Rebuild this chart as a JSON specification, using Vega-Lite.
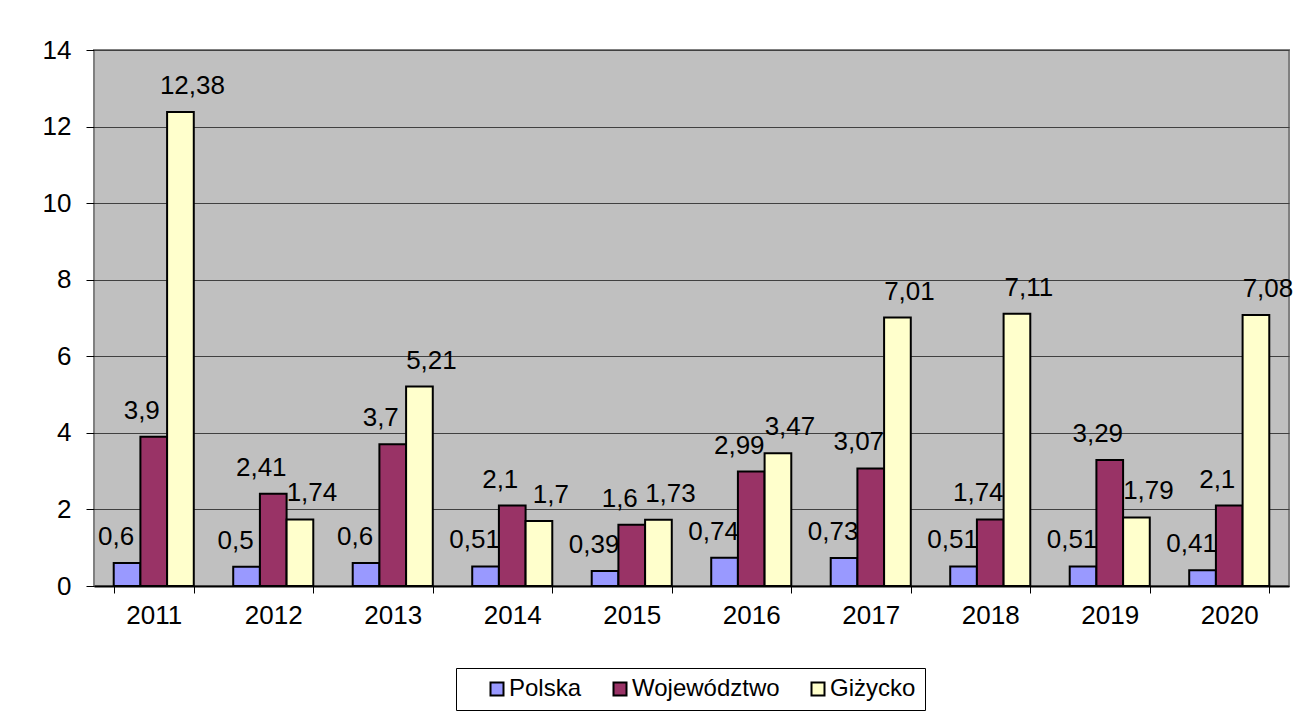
{
  "$schema": "https://vega.github.io/schema/vega-lite/v6.json",
  "width": 1195,
  "height": 536,
  "autosize": {"type": "none"},
  "padding": {"left": 94, "top": 50, "right": 22, "bottom": 130},
  "background": "white",
  "config": {
    "locale": {"number": {"decimal": ",", "thousands": " ", "grouping": [3], "currency": ["", ""]}},
    "font": "Liberation Sans",
    "view": {"fill": "#C0C0C0", "stroke": "#808080", "strokeWidth": 2}
  },
  "data": {
    "values": [
      {"year": "2011", "series": "Polska", "value": 0.6},
      {"year": "2011", "series": "Województwo", "value": 3.9},
      {"year": "2011", "series": "Giżycko", "value": 12.38},
      {"year": "2012", "series": "Polska", "value": 0.5},
      {"year": "2012", "series": "Województwo", "value": 2.41},
      {"year": "2012", "series": "Giżycko", "value": 1.74},
      {"year": "2013", "series": "Polska", "value": 0.6},
      {"year": "2013", "series": "Województwo", "value": 3.7},
      {"year": "2013", "series": "Giżycko", "value": 5.21},
      {"year": "2014", "series": "Polska", "value": 0.51},
      {"year": "2014", "series": "Województwo", "value": 2.1},
      {"year": "2014", "series": "Giżycko", "value": 1.7},
      {"year": "2015", "series": "Polska", "value": 0.39},
      {"year": "2015", "series": "Województwo", "value": 1.6},
      {"year": "2015", "series": "Giżycko", "value": 1.73},
      {"year": "2016", "series": "Polska", "value": 0.74},
      {"year": "2016", "series": "Województwo", "value": 2.99},
      {"year": "2016", "series": "Giżycko", "value": 3.47},
      {"year": "2017", "series": "Polska", "value": 0.73},
      {"year": "2017", "series": "Województwo", "value": 3.07},
      {"year": "2017", "series": "Giżycko", "value": 7.01},
      {"year": "2018", "series": "Polska", "value": 0.51},
      {"year": "2018", "series": "Województwo", "value": 1.74},
      {"year": "2018", "series": "Giżycko", "value": 7.11},
      {"year": "2019", "series": "Polska", "value": 0.51},
      {"year": "2019", "series": "Województwo", "value": 3.29},
      {"year": "2019", "series": "Giżycko", "value": 1.79},
      {"year": "2020", "series": "Polska", "value": 0.41},
      {"year": "2020", "series": "Województwo", "value": 2.1},
      {"year": "2020", "series": "Giżycko", "value": 7.08}
    ]
  },
  "encoding": {
    "x": {
      "field": "year",
      "type": "ordinal",
      "scale": {"paddingInner": 0.33, "paddingOuter": 0.165},
      "axis": {
        "title": null,
        "labelAngle": 0,
        "tickBand": "extent",
        "grid": false,
        "domainColor": "black",
        "domainWidth": 2,
        "tickColor": "black",
        "tickSize": 7,
        "tickWidth": 1,
        "labelFontSize": 26,
        "labelColor": "black",
        "labelPadding": 9
      }
    },
    "xOffset": {
      "field": "series",
      "scale": {"domain": ["Polska", "Województwo", "Giżycko"], "paddingInner": 0, "paddingOuter": 0}
    },
    "y": {
      "field": "value",
      "type": "quantitative",
      "scale": {"domain": [0, 14], "nice": false},
      "axis": {
        "title": null,
        "values": [0, 2, 4, 6, 8, 10, 12, 14],
        "grid": true,
        "gridColor": "#404040",
        "gridWidth": 1,
        "domain": false,
        "tickColor": "black",
        "tickSize": 8,
        "labelFontSize": 26,
        "labelPadding": 15,
        "labelColor": "black"
      }
    }
  },
  "layer": [
    {
      "mark": {"type": "bar", "stroke": "black", "strokeWidth": 2},
      "encoding": {
        "fill": {
          "field": "series",
          "type": "nominal",
          "scale": {"domain": ["Polska", "Województwo", "Giżycko"], "range": ["#9999FF", "#993366", "#FFFFCC"]},
          "legend": {
            "orient": "none",
            "legendX": 362,
            "legendY": 618,
            "direction": "horizontal",
            "title": null,
            "symbolType": "square",
            "symbolSize": 169,
            "symbolStrokeColor": "black",
            "symbolStrokeWidth": 2,
            "labelFontSize": 24,
            "labelColor": "black",
            "labelOffset": 0,
            "symbolOffset": 20,
            "columnPadding": 6,
            "padding": 9,
            "strokeColor": "black",
            "fillColor": "white"
          }
        }
      }
    },
    {
      "transform": [{"filter": "datum.series === 'Polska'"}],
      "mark": {"type": "text", "dx": -11, "dy": -18, "baseline": "alphabetic", "fontSize": 26, "color": "black"},
      "encoding": {"text": {"field": "value", "type": "quantitative", "format": ".2~f"}}
    },
    {
      "transform": [{"filter": "datum.series === 'Województwo'"}],
      "mark": {"type": "text", "dx": -12, "dy": -18, "baseline": "alphabetic", "fontSize": 26, "color": "black"},
      "encoding": {"text": {"field": "value", "type": "quantitative", "format": ".2~f"}}
    },
    {
      "transform": [{"filter": "datum.series === 'Giżycko'"}],
      "mark": {"type": "text", "dx": 12, "dy": -18, "baseline": "alphabetic", "fontSize": 26, "color": "black"},
      "encoding": {"text": {"field": "value", "type": "quantitative", "format": ".2~f"}}
    }
  ]
}
